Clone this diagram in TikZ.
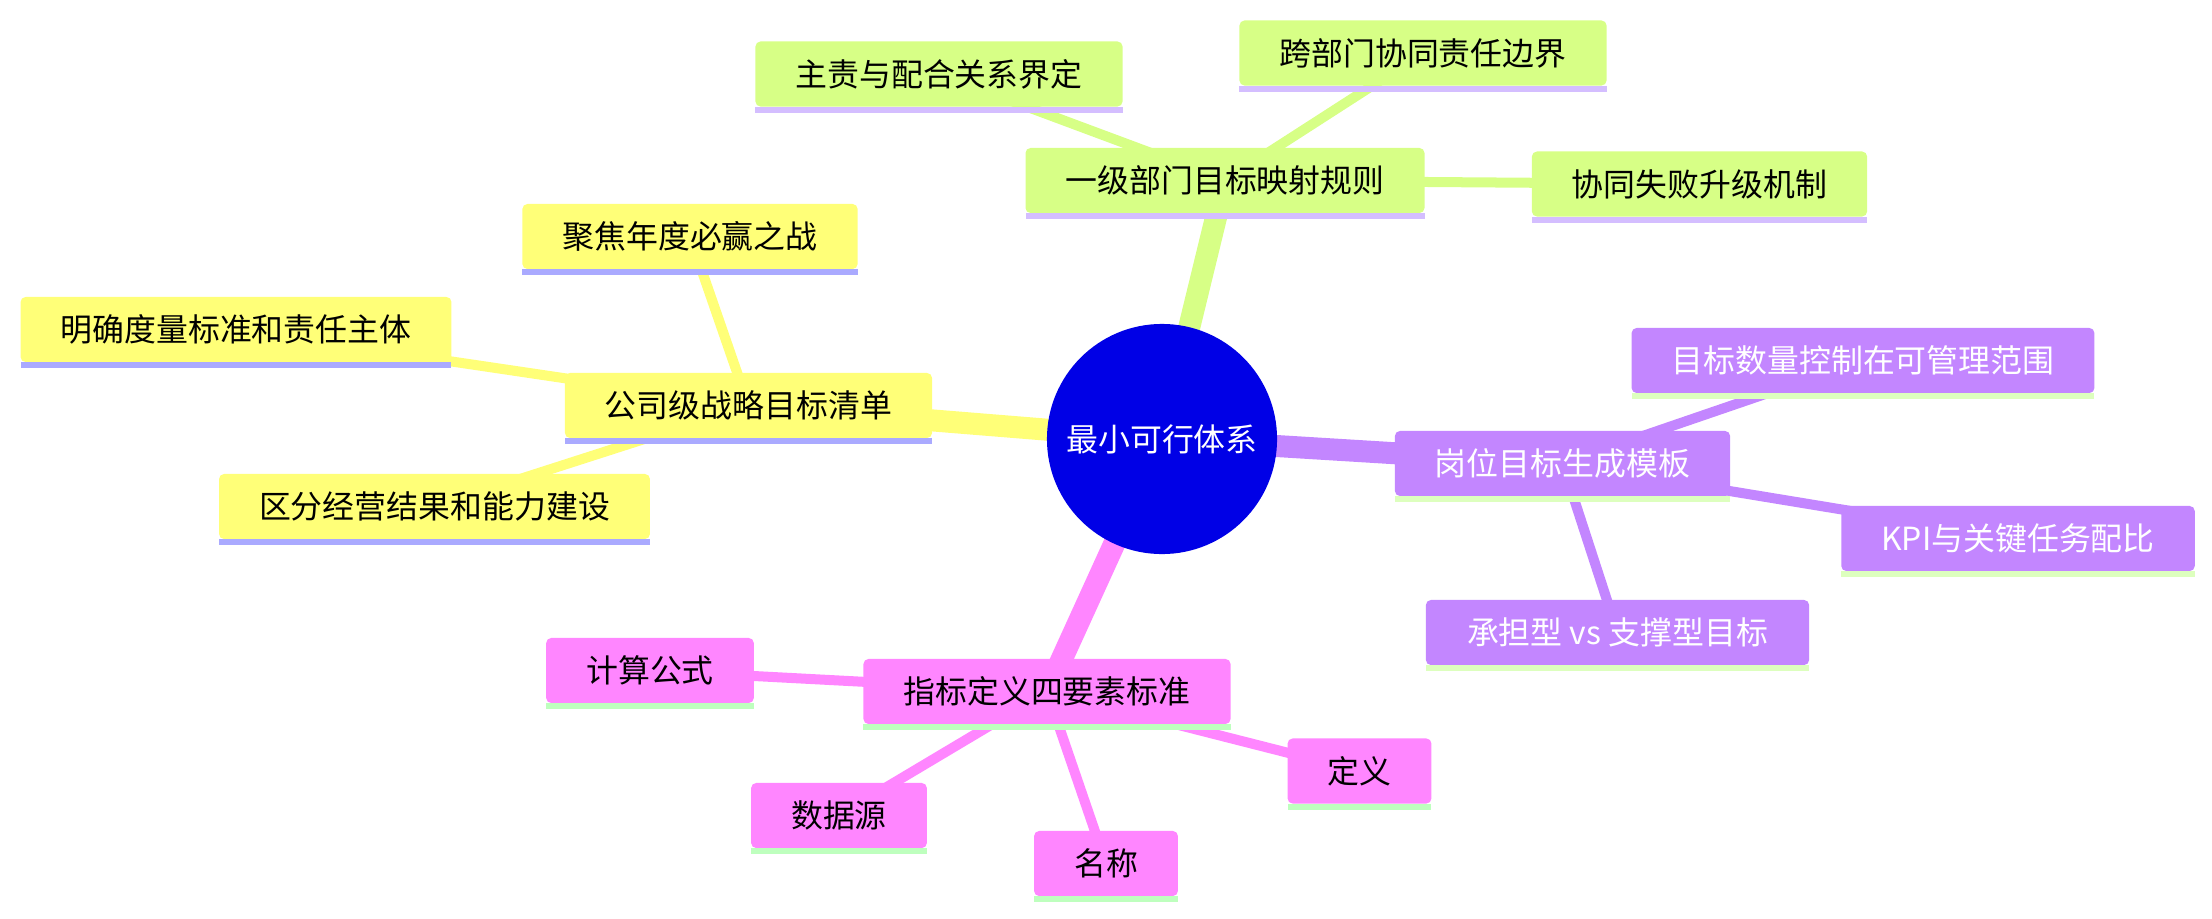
\documentclass[tikz,border=0pt]{standalone}
\usepackage{fontspec}
\setmainfont{Noto Sans CJK SC}
\usepackage{tikz}
\usetikzlibrary{backgrounds}
\usepackage{xcolor}
\definecolor{rootblue}{RGB}{0,0,230}
\definecolor{secyellow}{RGB}{255,255,120}
\definecolor{secgreen}{RGB}{215,255,134}
\definecolor{secpurple}{RGB}{195,134,255}
\definecolor{secpink}{RGB}{255,134,255}
\definecolor{baryellow}{RGB}{170,170,255}
\definecolor{bargreen}{RGB}{212,190,255}
\definecolor{barpurple}{RGB}{221,255,190}
\definecolor{barpink}{RGB}{190,255,190}
\newcommand{\mmfont}{\fontsize{9.07}{11}\selectfont}
\tikzset{
  mm/.style={rectangle,rounded corners=0.05cm,minimum height=0.65cm,
             inner xsep=0.4cm,inner ysep=0pt,outer sep=0pt,font=\mmfont},
  mmY/.style={mm,fill=secyellow,text=black},
  mmG/.style={mm,fill=secgreen,text=black},
  mmP/.style={mm,fill=secpurple,text=white},
  mmK/.style={mm,fill=secpink,text=black},
  rootnd/.style={circle,fill=rootblue,text=white,minimum size=2.3cm,
                 inner sep=0pt,outer sep=0pt,font=\mmfont},
  e1/.style={line width=0.22cm},
  e2/.style={line width=0.1cm},
}

\begin{document}
\begin{tikzpicture}[x=0.01cm,y=-0.01cm]
    \useasboundingbox (0,0) rectangle (2212,918);
    \node[rootnd] (root) at (1162,439) {最小可行体系};

    \node[mmY] (y0) at (748.5,405.5) {公司级战略目标清单};
    \node[mmY] (y1) at (690,236.5) {聚焦年度必赢之战};
    \node[mmY] (y2) at (236,329.5) {明确度量标准和责任主体};
    \node[mmY] (y3) at (434.5,506.5) {区分经营结果和能力建设};

    \node[mmG] (g0) at (1225,180.5) {一级部门目标映射规则};
    \node[mmG] (g1) at (939,74) {主责与配合关系界定};
    \node[mmG] (g2) at (1423,53) {跨部门协同责任边界};
    \node[mmG] (g3) at (1699.5,184) {协同失败升级机制};

    \node[mmP] (p0) at (1562.5,463.5) {岗位目标生成模板};
    \node[mmP] (p1) at (1863,360.5) {目标数量控制在可管理范围};
    \node[mmP] (p2) at (2018,538.5) {KPI与关键任务配比};
    \node[mmP,minimum width=3.83cm] (p3) at (1617.5,632.5) {承担型 vs 支撑型目标};

    \node[mmK] (k0) at (1047,691.5) {指标定义四要素标准};
    \node[mmK] (k1) at (650,670.5) {计算公式};
    \node[mmK] (k2) at (839,815.5) {数据源};
    \node[mmK] (k3) at (1106,863.5) {名称};
    \node[mmK] (k4) at (1359.5,771) {定义};

    \begin{scope}[on background layer]
      \draw[e1,secyellow] (root.center) -- (y0.center);
      \draw[e1,secgreen] (root.center) -- (g0.center);
      \draw[e1,secpurple] (root.center) -- (p0.center);
      \draw[e1,secpink] (root.center) -- (k0.center);
      \foreach \n in {y1,y2,y3} \draw[e2,secyellow] (y0.center) -- (\n.center);
      \foreach \n in {g1,g2,g3} \draw[e2,secgreen] (g0.center) -- (\n.center);
      \foreach \n in {p1,p2,p3} \draw[e2,secpurple] (p0.center) -- (\n.center);
      \foreach \n in {k1,k2,k3,k4} \draw[e2,secpink] (k0.center) -- (\n.center);
    \end{scope}

    \foreach \n in {y0,y1,y2,y3}
      \fill[baryellow] (\n.south west) rectangle ([yshift=-0.06cm]\n.south east);
    \foreach \n in {g0,g1,g2,g3}
      \fill[bargreen] (\n.south west) rectangle ([yshift=-0.06cm]\n.south east);
    \foreach \n in {p0,p1,p2,p3}
      \fill[barpurple] (\n.south west) rectangle ([yshift=-0.06cm]\n.south east);
    \foreach \n in {k0,k1,k2,k3,k4}
      \fill[barpink] (\n.south west) rectangle ([yshift=-0.06cm]\n.south east);
  \end{tikzpicture}
\end{document}
